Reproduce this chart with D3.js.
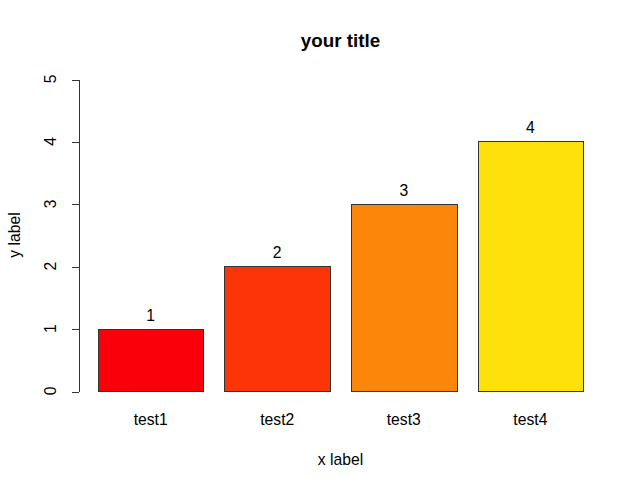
<!DOCTYPE html>
<meta charset="utf-8">
<style>
body { margin: 0; background: #fff; }
text { font-family: "Liberation Sans", Arial, sans-serif; fill: #000; }
.axis path, .axis line { stroke: #333; stroke-width: 1px; shape-rendering: crispEdges; }
.bar { stroke: #333; stroke-width: 1px; shape-rendering: crispEdges; }
</style>
<body>
<script src="https://cdn.jsdelivr.net/npm/d3@7"></script>
<script>
var categories = ["test1", "test2", "test3", "test4"];
var values = [1, 2, 3, 4];
var colors = ["#F9000A", "#FC3508", "#FC8609", "#FEE00B"];
var yTicks = [0, 1, 2, 3, 4, 5];

var width = 642,
    height = 489;

// R barplot geometry: width 1, space 0.2
var barLeft = function(i) { return 0.2 + i * 1.2; };

var x = d3.scaleLinear()
    .domain([0.2 - 0.184, 4.8 + 0.184])
    .range([78.5, 602.5]);

var y = d3.scaleLinear()
    .domain([0, 5])
    .range([391, 79]);

var svg = d3.select("body").append("svg")
    .attr("width", width)
    .attr("height", height);

svg.selectAll("rect.bar")
    .data(values)
  .enter().append("rect")
    .attr("class", "bar")
    .attr("x", function(d, i) { return Math.round(x(barLeft(i))) + 0.5; })
    .attr("width", function(d, i) { return Math.round(x(barLeft(i) + 1)) - Math.round(x(barLeft(i))); })
    .attr("y", function(d) { return Math.round(y(d)) + 0.5; })
    .attr("height", function(d) { return Math.round(y(0)) - Math.round(y(d)); })
    .attr("fill", function(d, i) { return colors[i]; });

// value labels
svg.selectAll("text.val")
    .data(values)
  .enter().append("text")
    .attr("class", "val")
    .attr("x", function(d, i) { return x(barLeft(i) + 0.5); })
    .attr("y", function(d) { return y(d) - 8; })
    .attr("text-anchor", "middle")
    .style("font-size", "15.7px")
    .text(function(d) { return d; });

// category labels
svg.selectAll("text.cat")
    .data(categories)
  .enter().append("text")
    .attr("class", "cat")
    .attr("x", function(d, i) { return x(barLeft(i) + 0.5); })
    .attr("y", 425)
    .attr("text-anchor", "middle")
    .style("font-size", "15.7px")
    .text(function(d) { return d; });

// y axis
var yAxis = svg.append("g")
    .attr("class", "axis")
    .attr("transform", "translate(78.5,0)")
    .call(d3.axisLeft(y).tickValues(yTicks).tickSize(7).tickSizeOuter(0).tickFormat(""));

yAxis.selectAll(".tick line").attr("transform", "translate(0,0.5)");

svg.selectAll("text.ytick")
    .data(yTicks)
  .enter().append("text")
    .attr("class", "ytick")
    .attr("transform", function(d) { return "translate(56," + y(d) + ")rotate(-90)"; })
    .attr("text-anchor", "middle")
    .style("font-size", "15.7px")
    .text(function(d) { return d; });

// title and axis labels
svg.append("text")
    .attr("x", 340.5)
    .attr("y", 47)
    .attr("text-anchor", "middle")
    .style("font-size", "18.8px")
    .style("font-weight", "bold")
    .text("your title");

svg.append("text")
    .attr("x", 340.5)
    .attr("y", 465)
    .attr("text-anchor", "middle")
    .style("font-size", "15.7px")
    .text("x label");

svg.append("text")
    .attr("transform", "translate(20,235)rotate(-90)")
    .attr("text-anchor", "middle")
    .style("font-size", "15.7px")
    .text("y label");
</script>
